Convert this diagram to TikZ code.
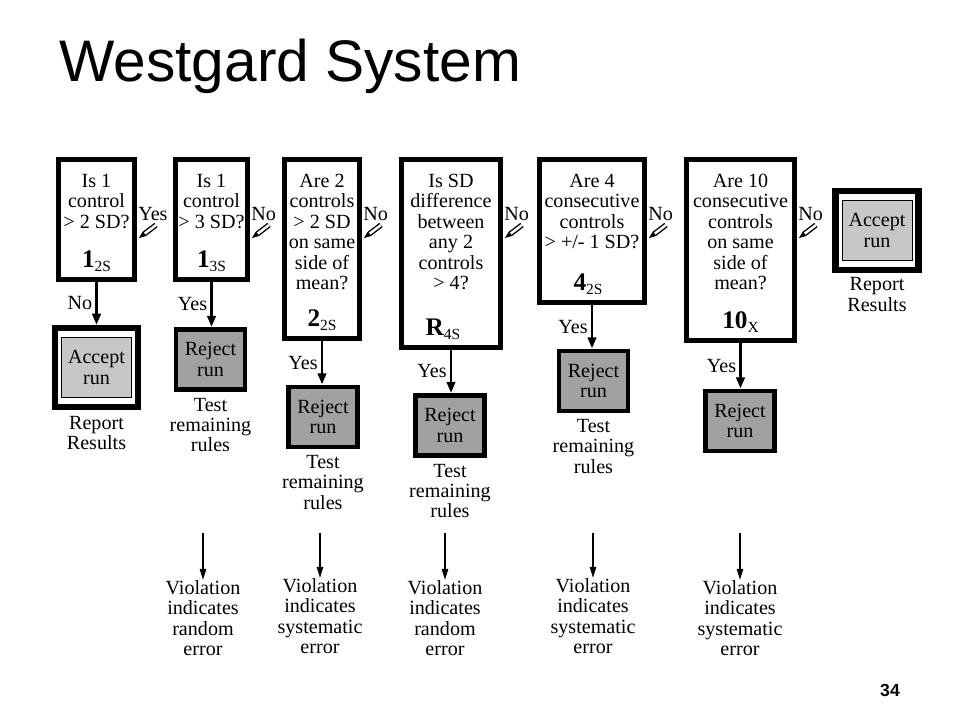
\documentclass[tikz,border=0pt]{standalone}
\usepackage{fontspec}
\setmainfont{Liberation Serif}
\newfontfamily\slidefont{Liberation Sans}
\usetikzlibrary{positioning,calc,arrows.meta}

\newcommand{\rulelbl}[2]{{\fontsize{18}{18}\selectfont\bfseries #1}\raisebox{-2.5pt}{\fontsize{11}{11}\selectfont #2}}

\tikzset{
  txt/.style={font=\fontsize{14.3}{14.5}\selectfont, align=center, inner sep=0pt},
  qbox/.style={draw, line width=3.5pt, inner sep=0pt},
  accbox/.style={draw, line width=4.3pt, minimum width=2.075cm, minimum height=1.975cm, inner sep=0pt},
  accin/.style={txt, draw, line width=0.7pt, fill=black!22, minimum width=1.75cm, minimum height=1.5cm},
  rejbox/.style={txt, draw, line width=3.5pt, fill=black!37, minimum width=1.725cm, minimum height=1.5cm},
  flowarr/.style={line width=2.1pt, -{Triangle[length=8pt,width=6pt]}},
  vio/.style={line width=1.4pt, -{Triangle[length=8pt,width=4.5pt]}},
  ans/.style={txt, anchor=base west},
  pencil/.style={line width=1pt, double=white, double distance=1.8pt},
  nib/.style={line width=0.4pt, -{Triangle[length=5pt,width=3.8pt]}}
}

\begin{document}
\begin{tikzpicture}[x=0.025cm, y=-0.025cm]
  \useasboundingbox (0,0) rectangle (960,720);
  \node[anchor=base west, inner sep=0pt, font=\slidefont\fontsize{41.7}{50}\selectfont] (title) at (59,82) {Westgard System};

  % rule boxes
  \node[qbox, minimum width=1.9cm, minimum height=3cm] (q1) at (96.5,219.5) {};
  \node[qbox, minimum width=1.8cm, minimum height=3cm] (q2) at (211.5,219.5) {};
  \node[qbox, minimum width=1.875cm, minimum height=4.475cm] (q3) at (322,249) {};
  \node[qbox, minimum width=2.475cm, minimum height=4.7cm] (q4) at (451,253.5) {};
  \node[qbox, minimum width=2.625cm, minimum height=3.575cm] (q5) at (592,231) {};
  \node[qbox, minimum width=2.7cm, minimum height=4.525cm] (q6) at (740.5,250) {};

  \node[txt, below=12pt of q1.north] (t1) {Is 1\\control\\> 2 SD?};
  \node[txt, below=12pt of q2.north] (t2) {Is 1\\control\\> 3 SD?};
  \node[txt, below=12pt of q3.north] (t3) {Are 2\\controls\\> 2 SD\\on same\\side of\\mean?};
  \node[txt, below=12pt of q4.north] (t4) {Is SD\\difference\\between\\any 2\\controls\\> 4?};
  \node[txt, below=12pt of q5.north] (t5) {Are 4\\consecutive\\controls\\> +/- 1 SD?};
  \node[txt, below=12pt of q6.north] (t6) {Are 10\\consecutive\\controls\\on same\\side of\\mean?};

  \node[anchor=base] (n1) at ($(q1.south)+(0,-14)$) {\rulelbl{1}{2S}};
  \node[anchor=base] (n2) at ($(q2.south)+(0,-14)$) {\rulelbl{1}{3S}};
  \node[anchor=base] (n3) at ($(q3.south)+(0,-14)$) {\rulelbl{2}{2S}};
  \node[anchor=base] (n4) at ($(q4.south)+(-8,-14)$) {\rulelbl{R}{4S}};
  \node[anchor=base] (n5) at ($(q5.south)+(-4,-14)$) {\rulelbl{4}{2S}};
  \node[anchor=base] (n6) at ($(q6.south)+(0,-14)$) {\rulelbl{10}{X}};

  % yes/no to the next rule
  \foreach \b/\t in {q1/Yes, q2/No, q3/No, q4/No, q5/No, q6/No} {
    \node[ans] (\b ans) at ($(\b.north east)+(1,63)$) {\t};
    \coordinate (\b pa) at ($(\b.north east)+(19,68)$);
    \coordinate (\b pb) at ($(\b.north east)+(2,81)$);
    \coordinate (\b pm) at ($(\b pa)!0.68!(\b pb)$);
    \draw[pencil] (\b pa) -- (\b pm);
    \draw[nib] (\b pm) -- (\b pb);
  }

  % results
  \node[accbox] (a1) at (96.5,367.5) {};
  \node[accin] (a1in) at (a1) {Accept\\run};
  \node[accbox] (a2) at (877,230.5) {};
  \node[accin] (a2in) at (a2) {Accept\\run};
  \node[rejbox] (r1) at (210.5,359.5) {Reject\\run};
  \node[rejbox] (r2) at (323,417) {Reject\\run};
  \node[rejbox] (r3) at (450,425.5) {Reject\\run};
  \node[rejbox] (r4) at (593.5,381) {Reject\\run};
  \node[rejbox] (r5) at (740,421) {Reject\\run};

  \draw[flowarr] (q1.south) -- (q1.south |- a1.north) node[txt, midway, left=2pt] {No};
  \draw[flowarr] (q2.south) -- (q2.south |- r1.north) node[txt, midway, left=2pt] {Yes};
  \draw[flowarr] (q3.south) -- (q3.south |- r2.north) node[txt, midway, left=2pt] {Yes};
  \draw[flowarr] (q4.south) -- (q4.south |- r3.north) node[txt, midway, left=2pt] {Yes};
  \draw[flowarr] (q5.south) -- (q5.south |- r4.north) node[txt, midway, left=2pt] {Yes};
  \draw[flowarr] (q6.south) -- (q6.south |- r5.north) node[txt, midway, left=2pt] {Yes};

  \node[txt, below=4pt of a1] (c1) {Report\\Results};
  \node[txt, below=4pt of r1] (c2) {Test\\remaining\\rules};
  \node[txt, below=4pt of r2] (c3) {Test\\remaining\\rules};
  \node[txt, below=4pt of r3] (c4) {Test\\remaining\\rules};
  \node[txt, below=4pt of r4] (c5) {Test\\remaining\\rules};
  \node[txt, below=3pt of a2] (c6) {Report\\Results};

  % what a violation means
  \coordinate (vt1) at (203,533);
  \coordinate (vt2) at (320,533);
  \coordinate (vt3) at (445,533);
  \coordinate (vt4) at (593,533);
  \coordinate (vt5) at (740,533);
  \node[txt, anchor=north] (v1) at (203,580) {Violation\\indicates\\random\\error};
  \node[txt, anchor=north] (v2) at (320,578) {Violation\\indicates\\systematic\\error};
  \node[txt, anchor=north] (v3) at (445,580) {Violation\\indicates\\random\\error};
  \node[txt, anchor=north] (v4) at (593,578) {Violation\\indicates\\systematic\\error};
  \node[txt, anchor=north] (v5) at (740,580) {Violation\\indicates\\systematic\\error};
  \draw[vio] (vt1) -- (v1.north);
  \draw[vio] (vt2) -- (v2.north);
  \draw[vio] (vt3) -- (v3.north);
  \draw[vio] (vt4) -- (v4.north);
  \draw[vio] (vt5) -- (v5.north);

  \node[inner sep=0pt, font=\slidefont\bfseries\fontsize{12.5}{14}\selectfont] (pg) at (890,690) {34};
\end{tikzpicture}
\end{document}
